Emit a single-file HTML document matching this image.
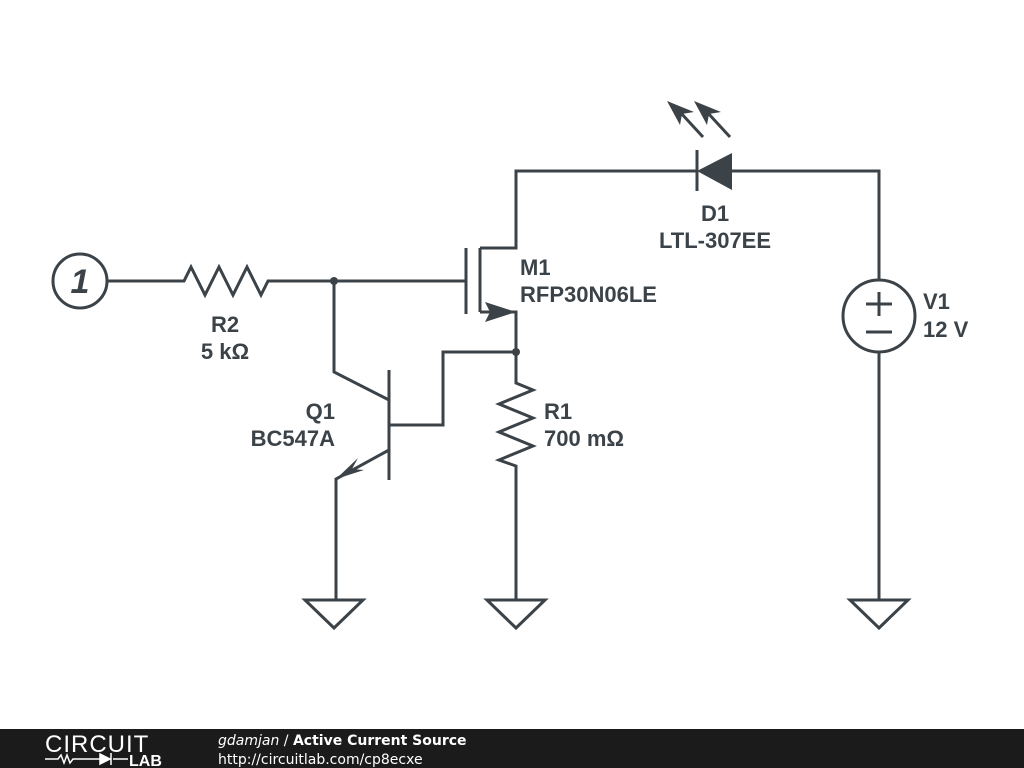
<!DOCTYPE html>
<html><head><style>
html,body{margin:0;padding:0;background:#fff;width:1024px;height:768px;overflow:hidden}
svg{display:block}
</style></head><body>
<svg width="1024" height="768" viewBox="0 0 1024 768" xmlns="http://www.w3.org/2000/svg">
<g stroke="#3c4348" stroke-width="3" fill="none" stroke-linejoin="miter">
<circle cx="80" cy="281" r="27"/>
<path d="M107 281 H184 L191 267 L205 295 L219 267 L233 295 L247 267 L261 295 L268 281 H466"/>
<path d="M466 248 V314"/>
<path d="M480 248 V312"/>
<path d="M480 248 H516 V171 H697"/>
<path d="M480 312 H516 V383 L533 390 L499 404 L533 418 L499 432 L533 446 L499 460 L516 466 V600"/>
<path d="M516 352 H443 V425 H390"/>
<path d="M389 370 V480"/>
<path d="M334 281 V372 L389 400"/>
<path d="M389 450 L336 479 V600"/>
<path d="M305 600 H363 L334 628 Z"/>
<path d="M487 600 H545 L516 628 Z"/>
<path d="M850 600 H908 L879 628 Z"/>
<path d="M697 150 V191"/>
<path d="M732 171 H879 V280"/>
<path d="M879 352 V600"/>
<circle cx="879" cy="316" r="36"/>
<path d="M866 304 H892 M879 292 V316 M866 332 H892"/>
<path d="M703 137 L680 112 M730 137 L707 112"/>
</g>
<g fill="#3c4348">
<circle cx="334" cy="281" r="4"/>
<circle cx="516" cy="352" r="4"/>
<path d="M697 171 L732 153 V190 Z"/>
<path d="M516 312 L485 302 L490 312 L485 322 Z"/>
<path d="M336 479 L358 458 L352 469 L364 470 Z"/>
<path d="M667 101 L694 112 L682 114 L680 125 Z"/>
<path d="M694 101 L721 112 L709 114 L707 125 Z"/>
</g>
<g font-family="Liberation Sans, sans-serif" font-weight="bold" font-size="22" fill="#3c4348">
<text x="80" y="293" text-anchor="middle" font-style="italic" font-size="34">1</text>
<text x="225" y="332" text-anchor="middle">R2</text>
<text x="225" y="359" text-anchor="middle">5 kΩ</text>
<text x="520" y="275">M1</text>
<text x="520" y="302">RFP30N06LE</text>
<text x="715" y="221" text-anchor="middle">D1</text>
<text x="715" y="248" text-anchor="middle">LTL-307EE</text>
<text x="923" y="309">V1</text>
<text x="923" y="337">12 V</text>
<text x="335" y="419" text-anchor="end">Q1</text>
<text x="335" y="446" text-anchor="end">BC547A</text>
<text x="544" y="419">R1</text>
<text x="544" y="446">700 mΩ</text>
</g>
<rect x="0" y="729" width="1024" height="39" fill="#1b1b1b"/>
<text x="45" y="752" font-family="Liberation Sans, sans-serif" font-size="24" fill="#fff" letter-spacing="1">CIRCUIT</text>
<path d="M45 759 H58 L61 755 L64 763 L67 755 L70 763 L73 759 H100 M113 759 H128" stroke="#fff" stroke-width="1.5" fill="none"/>
<path d="M100 754 L110 759 L100 764 Z M111 753 V765" fill="#fff" stroke="#fff" stroke-width="1.5"/>
<text x="129" y="766" font-family="Liberation Sans, sans-serif" font-weight="bold" font-size="16" fill="#fff">LAB</text>
<text x="218" y="745" font-family="DejaVu Sans, sans-serif" font-size="14" fill="#fff"><tspan font-style="italic">gdamjan</tspan> / <tspan font-weight="bold">Active Current Source</tspan></text>
<text x="218" y="764" font-family="DejaVu Sans, sans-serif" font-size="14" fill="#fff">http://circuitlab.com/cp8ecxe</text>
</svg>
</body></html>
